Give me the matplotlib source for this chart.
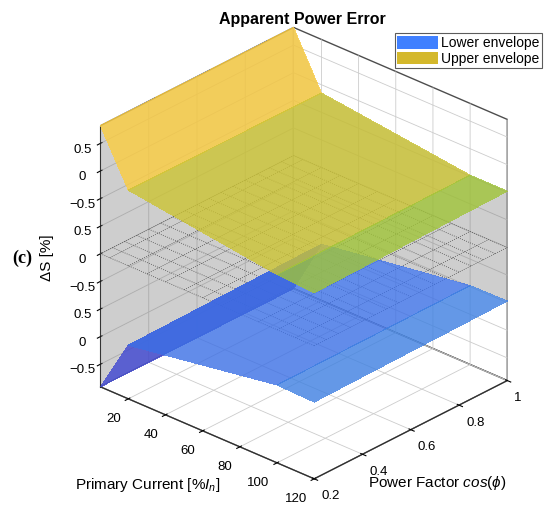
import numpy as np
import matplotlib.pyplot as plt
from matplotlib.colors import LinearSegmentedColormap, Normalize
from matplotlib.patches import Patch
from mpl_toolkits.mplot3d.art3d import Poly3DCollection

# data (heights as drawn: upper envelope shifted up, lower shifted down)
current = [5, 20, 100, 120]
pf = [0.2, 1.0]
upper = [[2.32, 1.37, 1.00, 0.96],
         [2.32, 1.35, 1.02, 1.02]]
lower = [[-2.41, -1.44, -1.00, -1.02],
         [-2.41, -1.39, -0.98, -0.97]]
z_ticks = [-2, -1.5, -1, -0.5, 0, 0.5, 1, 1.5, 2]
z_labels = ['\u22120.5', '0', '0.5', '\u22120.5', '0', '0.5', '\u22120.5', '0', '0.5']
x_ticks = [20, 40, 60, 80, 100, 120]
x_labels = ['20', '40', '60', '80', '100', '120']
y_ticks = [0.2, 0.4, 0.6, 0.8, 1]
y_labels = ['0.2', '0.4', '0.6', '0.8', '1']
mesh_current = [5, 10, 20, 30, 40, 50, 60, 70, 80, 90, 100, 110, 120]
mesh_pf = [0.2, 0.25, 0.3, 0.35, 0.4, 0.45, 0.5, 0.55, 0.6, 0.65, 0.7, 0.75, 0.8, 0.85, 0.9, 0.95, 1.0]

zmin, zmax = -2.41, 2.32

cmap = LinearSegmentedColormap.from_list('par', [
    (0.0, (0.26, 0.18, 0.72)),
    (0.205, (0.22, 0.36, 0.92)),
    (0.30, (0.24, 0.50, 0.88)),
    (0.51, (0.10, 0.72, 0.70)),
    (0.72, (0.62, 0.77, 0.22)),
    (0.76, (0.80, 0.77, 0.20)),
    (0.90, (0.99, 0.80, 0.25)),
    (1.0, (0.98, 0.97, 0.05))])
norm = Normalize(zmin, zmax)

plt.rcParams['font.family'] = ['Liberation Sans', 'DejaVu Sans']
plt.rcParams['mathtext.fontset'] = 'custom'
plt.rcParams['mathtext.it'] = 'Liberation Sans:italic'
plt.rcParams['mathtext.rm'] = 'Liberation Sans'

fig = plt.figure(figsize=(5.5, 5.14), dpi=100)
ax = fig.add_axes([0.0905, 0.0197, 0.9, 0.95], projection='3d')
ax.set_proj_type('ortho')
ax.view_init(elev=27.9, azim=-47.4)
ax.set_box_aspect((284, 279, 289))
ax.computed_zorder = False

X, Y = np.meshgrid(current, pf)
U = np.array(upper)
L = np.array(lower)

# gray shadow on back walls between the envelopes
wall_x = [(current[0], p, l) for p, l in zip(pf, L[:, 0])] + \
         [(current[0], p, u) for p, u in zip(pf[::-1], U[::-1, 0])]
wall_y = [(c, pf[-1], l) for c, l in zip(current, L[-1])] + \
         [(c, pf[-1], u) for c, u in zip(current[::-1], U[-1, ::-1])]
walls = Poly3DCollection([wall_x, wall_y], facecolor=(0.45, 0.45, 0.45, 0.35),
                         edgecolor='none', zorder=1)
ax.add_collection3d(walls)

MX, MY = np.meshgrid(mesh_current, mesh_pf)
ax.plot_wireframe(MX, MY, np.zeros_like(MX, dtype=float), color='0.3',
                  linestyle=':', linewidth=0.6, zorder=2)

ax.plot_surface(X, Y, L, cmap=cmap, norm=norm, alpha=0.8, linewidth=0,
                antialiased=False, shade=False, zorder=3)
ax.plot_surface(X, Y, U, cmap=cmap, norm=norm, alpha=0.8, linewidth=0,
                antialiased=False, shade=False, zorder=4)

ax.set_xlim(5, 120)
ax.set_ylim(0.2, 1)
ax.set_zlim(zmin, zmax)
ax.set_xticks(x_ticks, labels=x_labels, ha='right')
ax.set_yticks(y_ticks, labels=y_labels, ha='left')
ax.set_zticks(z_ticks, labels=z_labels)
ax.tick_params(labelsize=9.5)
ax.xaxis.set_tick_params(pad=-1)
ax.yaxis.set_tick_params(pad=-2)
ax.zaxis.set_tick_params(pad=0)

for axis in (ax.xaxis, ax.yaxis, ax.zaxis):
    axis.set_pane_color((1, 1, 1, 1))
    axis.pane.set_edgecolor('0.3')
    axis._axinfo['grid']['color'] = (0.8, 0.8, 0.8, 1)
    axis._axinfo['grid']['linewidth'] = 0.6
    axis.line.set_color('0.15')
ax.zaxis.set_ticks_position('lower')

fig.text(0.549, 0.963, 'Apparent Power Error', ha='center', va='center',
         fontsize=11.5, fontweight='bold')
fig.text(0.268, 0.057, 'Primary Current [%$I_n$]', ha='center', va='center', fontsize=11)
fig.text(0.795, 0.06, 'Power Factor $cos(\\phi)$', ha='center', va='center', fontsize=11)
fig.text(0.085, 0.498, '\u0394S [%]', ha='center', va='center', rotation=90, fontsize=11)
fig.text(0.04, 0.498, '(c)', ha='center', va='center', fontsize=13,
         fontweight='bold', family='Liberation Serif')

handles = [Patch(facecolor=(0.25, 0.5, 1.0), label='Lower envelope'),
           Patch(facecolor=(0.83, 0.72, 0.17), label='Upper envelope')]
leg = fig.legend(handles=handles, loc='upper right', bbox_to_anchor=(0.986, 0.935),
                 fontsize=10, frameon=True, fancybox=False, edgecolor='0.2',
                 handlelength=2.95, handleheight=1.0, labelspacing=0.1,
                 borderpad=0.2, handletextpad=0.2, borderaxespad=0)
leg.get_frame().set_linewidth(0.8)

fig.savefig('out.png', dpi=100)
